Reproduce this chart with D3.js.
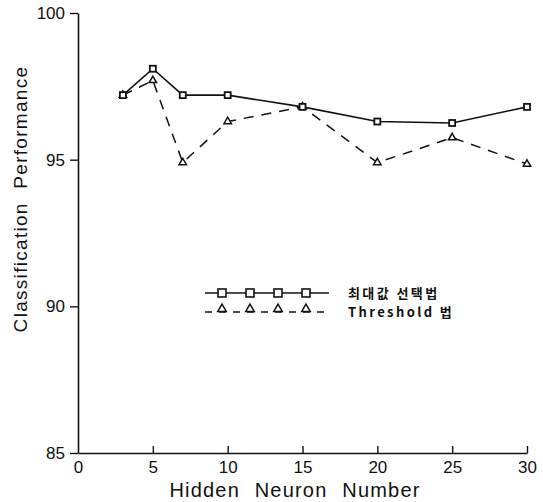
<!DOCTYPE html>
<html>
<head>
<meta charset="utf-8">
<script src="https://cdn.jsdelivr.net/npm/d3@7.9.0/dist/d3.min.js"></script>
<style>
  html, body { margin: 0; padding: 0; background: #fff; }
  svg { display: block; }
  text { fill: #111; }
</style>
</head>
<body>
<svg id="chart" width="543" height="502"></svg>
<script>
const neurons = [3, 5, 7, 10, 15, 20, 25, 30];
const maxSelect = [97.2, 98.1, 97.2, 97.2, 96.8, 96.3, 96.25, 96.8];
const threshold = [97.2, 97.7, 94.9, 96.3, 96.8, 94.9, 95.75, 94.85];
const xTicks = [0, 5, 10, 15, 20, 25, 30];
const yTicks = [85, 90, 95, 100];
const seriesNames = ['최대값 선택법', 'Threshold 법'];

const svg = d3.select('#chart');

const x = d3.scaleLinear().domain([0, 30]).range([78, 527]);
const y = d3.scaleLinear().domain([85, 100]).range([453, 13]);

// y axis: ticks outward
const yAxis = svg.append('g')
  .attr('transform', `translate(${x(0)},0)`)
  .call(d3.axisLeft(y).tickValues(yTicks).tickSize(8).tickPadding(5).tickSizeOuter(0));
yAxis.select('.domain').attr('stroke', '#111').attr('stroke-width', 1.6);
yAxis.selectAll('.tick line').attr('stroke', '#111').attr('stroke-width', 1.4);
yAxis.selectAll('.tick text')
  .attr('font-family', 'Liberation Sans, Arial, sans-serif')
  .attr('font-size', 17)
  .attr('fill', '#111');

// x axis: ticks point inward
const xAxis = svg.append('g')
  .attr('transform', `translate(0,${y(85)})`)
  .call(d3.axisBottom(x).tickValues(xTicks).tickSize(0).tickPadding(8).tickSizeOuter(0));
xAxis.select('.domain').attr('stroke', '#111').attr('stroke-width', 1.6);
xAxis.selectAll('.tick line').remove();
xAxis.selectAll('.tick').filter((d) => d !== 0)
  .append('line')
  .attr('y1', 0).attr('y2', -7)
  .attr('stroke', '#111').attr('stroke-width', 1.4);
xAxis.selectAll('.tick text')
  .attr('font-family', 'Liberation Sans, Arial, sans-serif')
  .attr('font-size', 17)
  .attr('fill', '#111');

// axis titles
svg.append('text')
  .attr('x', 295)
  .attr('y', 497)
  .attr('text-anchor', 'middle')
  .attr('font-family', 'Liberation Sans, Arial, sans-serif')
  .attr('font-size', 20)
  .attr('letter-spacing', 1.2)
  .attr('word-spacing', 8)
  .text('Hidden Neuron Number');

svg.append('text')
  .attr('transform', 'translate(27,199) rotate(-90)')
  .attr('text-anchor', 'middle')
  .attr('font-family', 'Liberation Sans, Arial, sans-serif')
  .attr('font-size', 19)
  .attr('letter-spacing', 1.3)
  .attr('word-spacing', 7)
  .text('Classification Performance');

const line = d3.line().x((d) => x(d[0])).y((d) => y(d[1]));
const solidPts = neurons.map((n, i) => [n, maxSelect[i]]);
const dashPts = neurons.map((n, i) => [n, threshold[i]]);

svg.append('path')
  .attr('d', line(dashPts))
  .attr('fill', 'none')
  .attr('stroke', '#111')
  .attr('stroke-width', 1.5)
  .attr('stroke-dasharray', '10,8');

svg.append('path')
  .attr('d', line(solidPts))
  .attr('fill', 'none')
  .attr('stroke', '#111')
  .attr('stroke-width', 1.6);

const tri = d3.symbol().type(d3.symbolTriangle).size(24);
svg.selectAll('.tri')
  .data(dashPts)
  .join('path')
  .attr('class', 'tri')
  .attr('transform', (d) => `translate(${x(d[0])},${y(d[1])})`)
  .attr('d', tri)
  .attr('fill', '#fff')
  .attr('stroke', '#111')
  .attr('stroke-width', 1.5);

svg.selectAll('.sq')
  .data(solidPts)
  .join('rect')
  .attr('class', 'sq')
  .attr('x', (d) => x(d[0]) - 3)
  .attr('y', (d) => y(d[1]) - 3)
  .attr('width', 6)
  .attr('height', 6)
  .attr('fill', '#fff')
  .attr('stroke', '#111')
  .attr('stroke-width', 1.8);

// legend
const legend = svg.append('g');
const legendMarks = [222, 250, 278, 306];

legend.append('line')
  .attr('x1', 205).attr('x2', 329).attr('y1', 293).attr('y2', 293)
  .attr('stroke', '#111').attr('stroke-width', 1.6);
legend.selectAll('.lsq')
  .data(legendMarks)
  .join('rect')
  .attr('class', 'lsq')
  .attr('x', (d) => d - 4).attr('y', 289)
  .attr('width', 8).attr('height', 8)
  .attr('fill', '#fff').attr('stroke', '#111').attr('stroke-width', 1.6);

legend.append('line')
  .attr('x1', 205).attr('x2', 329).attr('y1', 312).attr('y2', 312)
  .attr('stroke', '#111').attr('stroke-width', 1.5)
  .attr('stroke-dasharray', '7,7');
legend.selectAll('.ltri')
  .data(legendMarks)
  .join('path')
  .attr('class', 'ltri')
  .attr('transform', (d) => `translate(${d},${309})`)
  .attr('d', d3.symbol().type(d3.symbolTriangle).size(32))
  .attr('fill', '#fff').attr('stroke', '#111').attr('stroke-width', 1.5);

legend.selectAll('.ltext')
  .data(seriesNames)
  .join('text')
  .attr('class', 'ltext')
  .attr('x', 348)
  .attr('y', (d, i) => 298 + i * 19)
  .attr('font-family', 'Noto Sans CJK KR, DejaVu Sans Mono, monospace')
  .attr('font-weight', 'bold')
  .attr('font-size', 13)
  .attr('letter-spacing', 2.4)
  .text((d) => d);
</script>
</body>
</html>
